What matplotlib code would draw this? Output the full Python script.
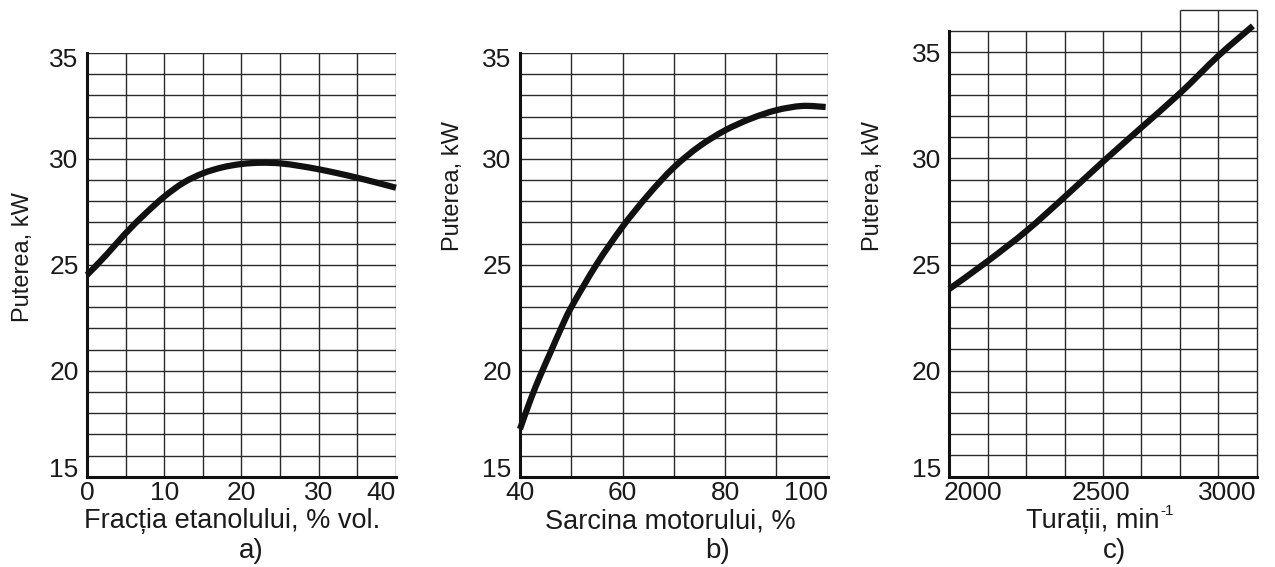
import numpy as np
import matplotlib
matplotlib.use("Agg")
import matplotlib.pyplot as plt
from matplotlib.path import Path
from matplotlib.patches import PathPatch
from matplotlib.transforms import ScaledTranslation

plt.rcParams['font.family'] = ['Liberation Sans', 'DejaVu Sans']

# a) power vs. ethanol fraction in the fuel
ethanol_pct = [0, 2.5, 5, 7.5, 10, 12.5, 15, 17.5, 20, 22.5, 25, 27.5, 30, 32.5, 35, 37.5, 40]
power_a = [24.52, 25.47, 26.49, 27.40, 28.22, 28.88, 29.32, 29.60, 29.76, 29.82,
           29.79, 29.67, 29.51, 29.32, 29.11, 28.88, 28.64]

# b) power vs. engine load
load_pct = [40, 42, 44, 46, 48, 50, 55, 60, 65, 70, 75, 80, 85, 90, 95, 99.6]
power_b = [17.25, 18.6, 19.8, 20.9, 22.0, 23.0, 25.05, 26.8, 28.3, 29.6,
           30.6, 31.35, 31.9, 32.3, 32.5, 32.45]

# c) power vs. engine speed
speed_rpm = [1905, 2055, 2210, 2360, 2510, 2660, 2815, 2965, 3100]
power_c = [23.85, 25.15, 26.6, 28.2, 29.85, 31.45, 33.1, 34.85, 36.25]

xticks_a = [0, 10, 20, 30, 40]
xticks_b = [40, 60, 80, 100]
xticks_c = [2000, 2500, 3000]
yticks = [15, 20, 25, 30, 35]

x_titles = ["Fracția etanolului, % vol.", "Sarcina motorului, %", "Turații, min"]
x_title_sup = [None, None, "-1"]
y_title = "Puterea, kW"
panel_tags = ["a)", "b)", "c)"]

W, H = 1275, 567
fig = plt.figure(figsize=(W / 100, H / 100), dpi=100)


def fr(x0, y_top, x1, y_bot):
    return [x0 / W, (H - y_bot) / H, (x1 - x0) / W, (y_bot - y_top) / H]


ax_a = fig.add_axes(fr(87, 53, 396, 476.7))
ax_b = fig.add_axes(fr(520, 53, 827.7, 476.7))
ax_c = fig.add_axes(fr(949.3, 10, 1256.7, 476.7))

GRID = '#2a2a2a'
CURVE = '#111111'
TEXT = '#1a1a1a'
TICK_FS = 19


def style(ax, xlim, ylim, xticks):
    ax.set_xlim(*xlim)
    ax.set_ylim(*ylim)
    ax.set_xticks(xticks)
    ax.set_yticks(yticks)
    ax.tick_params(length=0, labelsize=TICK_FS, colors=TEXT)
    ax.tick_params(axis='x', pad=3)
    ax.tick_params(axis='y', pad=6)
    for s in ('top', 'right'):
        ax.spines[s].set_visible(False)
    for s in ('left', 'bottom'):
        ax.spines[s].set_linewidth(2.2)
        ax.spines[s].set_color('#111111')
        ax.spines[s].set_zorder(4)
    # bottom y label sits on the axis line
    ax.yaxis.get_major_ticks()[0].label1.set_va('baseline')
    # last x label ends at the right edge
    ax.xaxis.get_major_ticks()[-1].label1.set_ha('right')


def smooth_curve(ax, xs, ys):
    """Draw a smooth line through the points as a chain of cubic Bezier pieces."""
    p = np.column_stack([np.asarray(xs, float), np.asarray(ys, float)])
    n = len(p)
    verts = [p[0]]
    codes = [Path.MOVETO]
    for i in range(n - 1):
        p0 = p[i - 1] if i > 0 else p[i]
        p1, p2 = p[i], p[i + 1]
        p3 = p[i + 2] if i + 2 < n else p[i + 1]
        verts += [p1 + (p2 - p0) / 6.0, p2 - (p3 - p1) / 6.0, p2]
        codes += [Path.CURVE4] * 3
    patch = PathPatch(Path(verts, codes), facecolor='none', edgecolor=CURVE,
                      lw=4.5, capstyle='butt', joinstyle='round', zorder=3,
                      transform=ax.transData, clip_on=False)
    ax.add_patch(patch)


# panel a
style(ax_a, (0, 40), (15, 35), xticks_a)
ax_a.hlines(np.arange(16, 36), 0, 40, color=GRID, lw=1.0, zorder=1)
ax_a.vlines(np.arange(5, 41, 5), 15, 35, color=GRID, lw=1.0, zorder=1)
smooth_curve(ax_a, ethanol_pct, power_a)

# panel b
style(ax_b, (40, 100), (15, 35), xticks_b)
ax_b.hlines(np.arange(16, 36), 40, 100, color=GRID, lw=1.0, zorder=1)
ax_b.vlines(np.arange(50, 101, 10), 15, 35, color=GRID, lw=1.0, zorder=1)
smooth_curve(ax_b, load_pct, power_b)

# panel c (grid paper with a raised section on the right)
style(ax_c, (1905, 3115), (15, 37), xticks_c)
ax_c.xaxis.get_major_ticks()[-1].label1.set_ha('center')
ax_c.spines['left'].set_bounds(15, 36)
cols = np.linspace(1905, 3115, 9)
ax_c.hlines(np.arange(16, 37), 1905, 3115, color=GRID, lw=1.0, zorder=1)
ax_c.vlines(cols[1:6], 15, 36, color=GRID, lw=1.0, zorder=1)
ax_c.vlines(cols[6:], 15, 37, color=GRID, lw=1.0, zorder=1, clip_on=False)
ax_c.hlines(37, cols[6], cols[8], color=GRID, lw=1.0, zorder=1, clip_on=False)
smooth_curve(ax_c, speed_rpm, power_c)

# top y label of a and b sits slightly below the frame line
for ax in (ax_a, ax_b):
    lab = ax.yaxis.get_major_ticks()[-1].label1
    lab.set_transform(lab.get_transform() + ScaledTranslation(0, -3 / 72, fig.dpi_scale_trans))

# axis titles and panel tags
ylab_pos = [(23, 257), (453, 186), (873, 186)]
xlab_x = [231.7, 670.8, 1092.5]
tag_x = [251, 718, 1115]
fig.canvas.draw()
renderer = fig.canvas.get_renderer()
for i in range(3):
    fig.text(ylab_pos[i][0] / W, (H - ylab_pos[i][1]) / H, y_title, rotation=90,
             ha='center', va='center', fontsize=17, color=TEXT)
    t = fig.text(xlab_x[i] / W, (H - 528) / H, x_titles[i], ha='center', va='baseline',
                 fontsize=19.5, color=TEXT)
    if x_title_sup[i]:
        bb = t.get_window_extent(renderer)
        fig.text(bb.x1 / W + 0.0005, (H - 515) / H, x_title_sup[i], ha='left',
                 va='baseline', fontsize=11, color=TEXT)
    fig.text(tag_x[i] / W, (H - 558) / H, panel_tags[i], ha='center', va='baseline',
             fontsize=20, color=TEXT)

fig.savefig('out.png', dpi=100)
